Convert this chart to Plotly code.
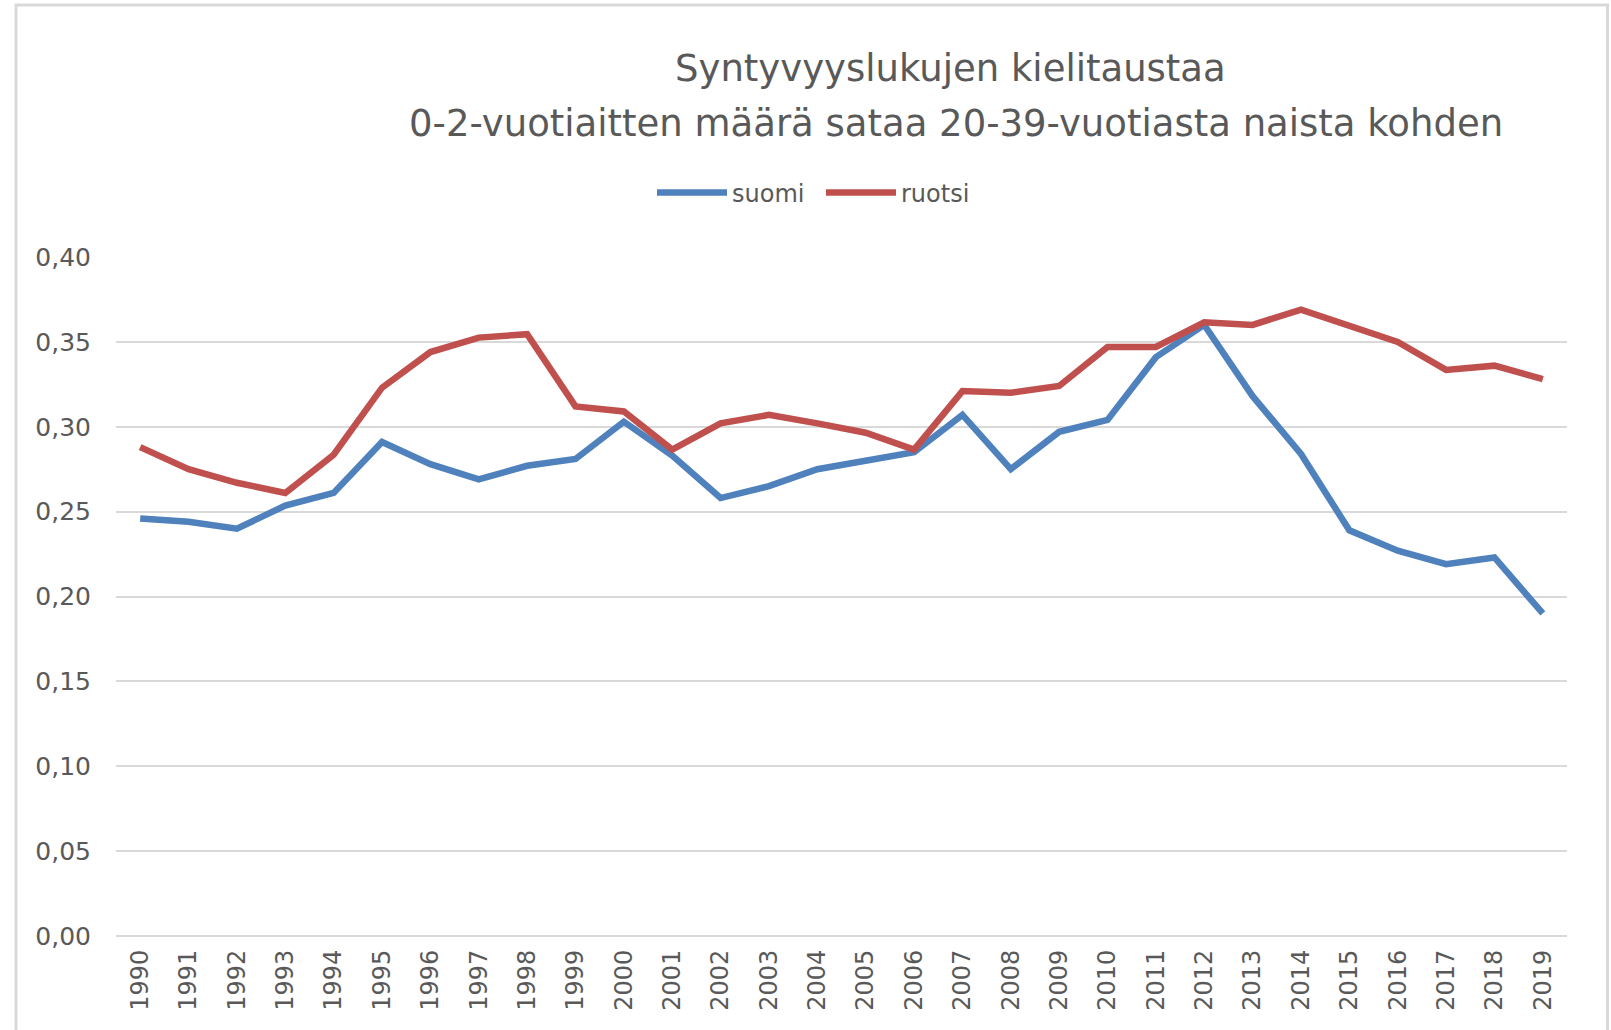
import plotly.graph_objects as go

years = [str(y) for y in range(1990, 2020)]
suomi = [0.246, 0.244, 0.240, 0.2535, 0.261, 0.291, 0.278, 0.269, 0.277, 0.281,
         0.303, 0.283, 0.258, 0.265, 0.275, 0.280, 0.285, 0.307, 0.275, 0.297,
         0.304, 0.341, 0.360, 0.318, 0.284, 0.239, 0.227, 0.219, 0.223, 0.190]
ruotsi = [0.288, 0.275, 0.267, 0.261, 0.2835, 0.323, 0.344, 0.3525, 0.3545, 0.312,
          0.309, 0.2865, 0.302, 0.307, 0.302, 0.2965, 0.2865, 0.321, 0.320, 0.324,
          0.347, 0.347, 0.3615, 0.360, 0.369, 0.360, 0.350, 0.3335, 0.336, 0.328]
y_ticks = [0.00, 0.05, 0.10, 0.15, 0.20, 0.25, 0.30, 0.35, 0.40]
title_lines = ["Syntyvyyslukujen kielitaustaa",
               "0-2-vuotiaitten määrä sataa 20-39-vuotiasta naista kohden"]

FONT = "DejaVu Sans"
TXT = "#595959"
GRID = "#D9D9D9"

fig = go.Figure()
fig.add_trace(go.Scatter(x=years, y=suomi, name="suomi", mode="lines",
                         line=dict(color="#4F81BD", width=6.5)))
fig.add_trace(go.Scatter(x=years, y=ruotsi, name="ruotsi", mode="lines",
                         line=dict(color="#C0504D", width=6.5)))

W, H = 1611, 1030
L, R, T, B = 116, 1567, 257, 936

def px(xp):
    return (xp - L) / (R - L)

def py(yp):
    return (B - yp) / (B - T)

fig.update_layout(
    width=W, height=H,
    margin=dict(l=L, r=W - R, t=T, b=H - B, pad=0),
    paper_bgcolor="white", plot_bgcolor="white",
    separators=", ",
    font=dict(family=FONT, color=TXT),
    showlegend=True,
    legend=dict(orientation="h", x=px(821), y=py(193), xanchor="center", yanchor="middle",
                font=dict(size=24, color=TXT, family=FONT), itemwidth=70,
                entrywidth=84, entrywidthmode="pixels",
                bgcolor="rgba(0,0,0,0)", traceorder="normal"),
    xaxis=dict(type="category", range=[-0.5, len(years) - 0.5], showgrid=False,
               showline=False, zeroline=False, tickangle=-90,
               tickfont=dict(size=24, color=TXT, family=FONT), ticks="",
               ticklabelstandoff=8),
    yaxis=dict(range=[0, 0.4], tickvals=y_ticks, tickformat=".2f", showgrid=True,
               gridcolor=GRID, gridwidth=2, zeroline=True, zerolinecolor=GRID,
               zerolinewidth=2, showline=False, ticks="",
               tickfont=dict(size=25, color=TXT, family=FONT), ticklabelstandoff=24),
    annotations=[
        dict(text=title_lines[0], x=px(951), y=py(68), xref="paper", yref="paper",
             xanchor="center", yanchor="middle", showarrow=False,
             font=dict(size=37, color=TXT, family=FONT)),
        dict(text=title_lines[1], x=px(956), y=py(123), xref="paper", yref="paper",
             xanchor="center", yanchor="middle", showarrow=False,
             font=dict(size=37, color=TXT, family=FONT)),
    ],
    shapes=[dict(type="rect", xref="paper", yref="paper",
                 x0=px(16), x1=px(1607.5), y0=py(1040), y1=py(5),
                 line=dict(color=GRID, width=3), fillcolor="rgba(0,0,0,0)", layer="below")],
)

fig.write_html(
    "out.html",
    config={"displayModeBar": False},
    post_script="document.body.style.margin='0';document.body.style.overflow='hidden';",
)
